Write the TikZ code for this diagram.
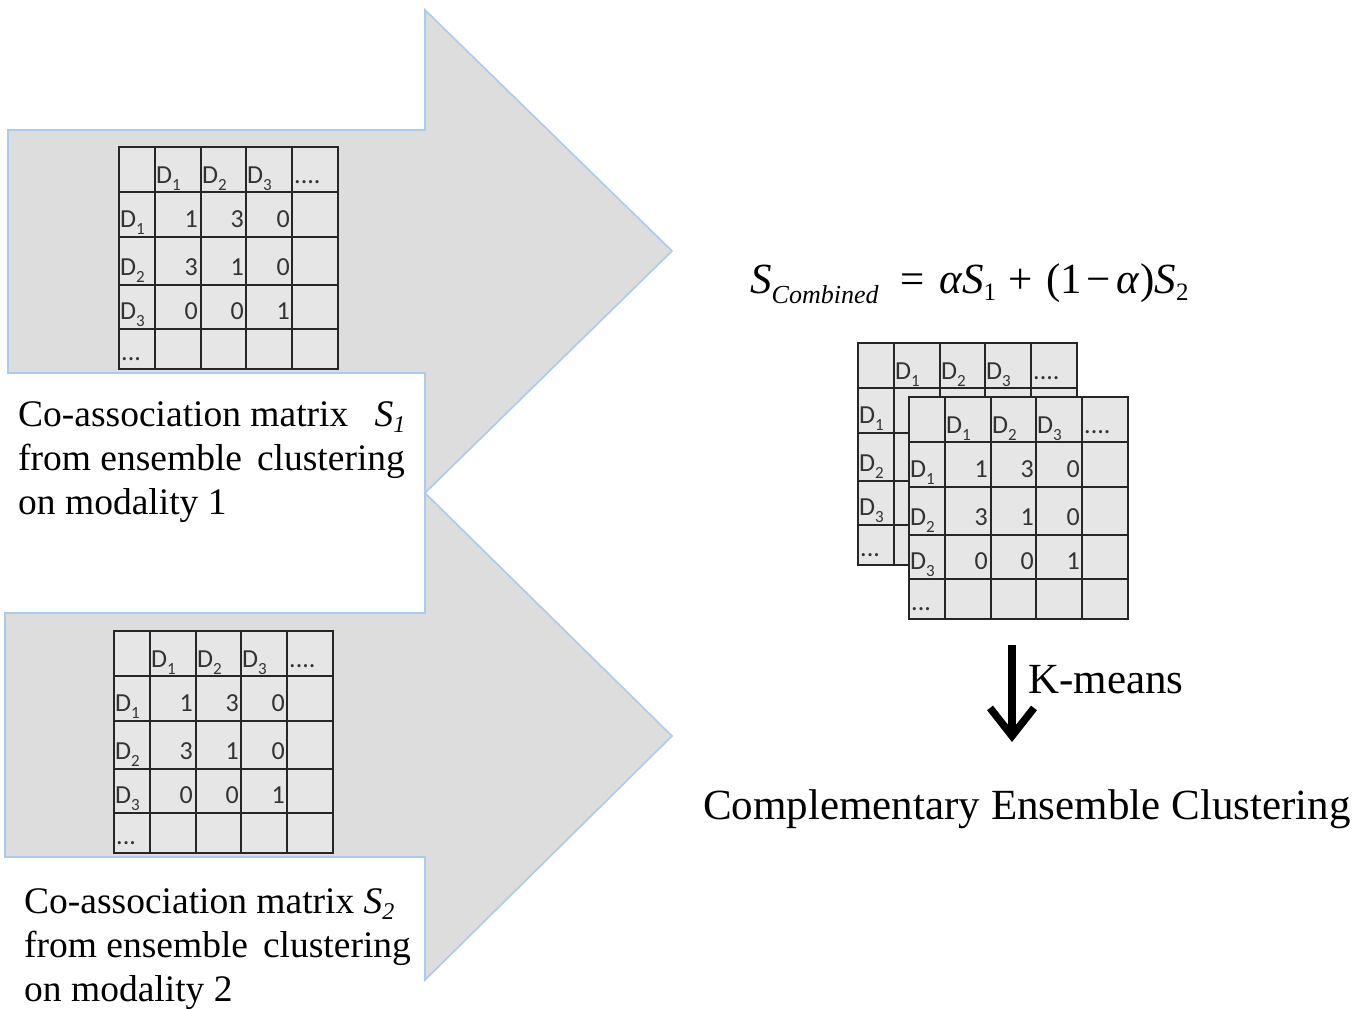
\documentclass[tikz,border=0pt]{standalone}
\usepackage{fontspec}
\setmainfont{Liberation Serif}
\newfontfamily\calfont{Carlito}
\usetikzlibrary{arrows.meta,positioning,calc}

\definecolor{arrowgray}{HTML}{DDDDDD}
\definecolor{arrowblue}{HTML}{A9CBEF}
\definecolor{cellgray}{HTML}{E6E6E6}

\tikzset{
  bigarrow/.style={fill=arrowgray, draw=arrowblue, line width=1.6pt, line join=miter},
  gridline/.style={draw=black!85, line width=1.6pt},
  celltext/.style={inner sep=0pt, font=\calfont\fontsize{26}{26}\selectfont, text=black!80},
  caption/.style={inner sep=0pt, align=left, font=\fontsize{37.5}{44}\selectfont},
  bigtext/.style={inner sep=0pt, font=\fontsize{43}{50}\selectfont},
  formula/.style={inner sep=0pt, font=\fontsize{43}{46}\selectfont},
  kmarrow/.style={line width=7.5pt, -{Straight Barb[length=28pt,width=44pt]}},
}

% D with a lowered index
\newcommand{\Dsub}[1]{D\raisebox{-7pt}{\fontsize{17}{17}\selectfont #1}}
% lowered index for the captions and the formula
\newcommand{\lowidx}[3][22]{\raisebox{#2}{\fontsize{#1}{#1}\selectfont #3}}

% grid and labels of a co-association matrix, #1 name, #2/#3 top left corner
\newcommand{\matframe}[3]{%
  \begin{scope}[shift={(#2,#3)}]
    \coordinate (#1) at (0,0);
    \fill[cellgray] (0,0) rectangle (219,222);
    \foreach \cx in {36,82,127,173} \draw[gridline] (\cx,0) -- (\cx,222);
    \foreach \ry in {45,90,138,182} \draw[gridline] (0,\ry) -- (219,\ry);
    \draw[gridline] (0,0) rectangle (219,222);
    % header row and first column
    \foreach \i/\cx in {1/37,2/83,3/128}
      \node[celltext, anchor=base west] (#1-h\i) at (\cx,36) {\Dsub{\i}};
    \foreach \i/\ry in {1/80,2/128,3/172}
      \node[celltext, anchor=base west] (#1-r\i) at (1,\ry) {\Dsub{\i}};
    \node[celltext, anchor=base west] (#1-hdots) at (175,36) {....};
    \node[celltext, anchor=base west] (#1-rdots) at (2,213) {...};
  \end{scope}}

% full matrix with its values
\newcommand{\comatrix}[3]{%
  \matframe{#1}{#2}{#3}
  \begin{scope}[shift={(#2,#3)}]
    \foreach \r/\ry/\a/\b/\c in {1/80/1/3/0, 2/128/3/1/0, 3/172/0/0/1} {
      \node[celltext, anchor=base east] (#1-v\r a) at (79,\ry) {\a};
      \node[celltext, anchor=base east] (#1-v\r b) at (125,\ry) {\b};
      \node[celltext, anchor=base east] (#1-v\r c) at (171,\ry) {\c};
    }
  \end{scope}}

\begin{document}
\begin{tikzpicture}[x=1pt,y=-1pt]
  \useasboundingbox (0,0) rectangle (1365,1009);

  % the two block arrows
  \draw[bigarrow] (8,130) -- (425,130) -- (425,10) -- (672,251)
    -- (425,493) -- (425,373) -- (8,373) -- cycle;
  \draw[bigarrow] (5,613) -- (425,613) -- (425,493) -- (672,736)
    -- (425,980) -- (425,857) -- (5,857) -- cycle;

  % matrices of the two modalities
  \comatrix{matone}{119}{147}
  \comatrix{mattwo}{114}{631}

  \node[caption, anchor=north west] (capone) at (18,401)
    {Co-association matrix\hspace{0.7em}\textit{S}\lowidx[24]{-6pt}{\textit{1}}\\
     from ensemble\hspace{0.4em}clustering\\
     on modality 1};
  \node[caption, anchor=north west] (captwo) at (24,888)
    {Co-association matrix \textit{S}\lowidx[24]{-6pt}{\textit{2}}\\
     from ensemble\hspace{0.4em}clustering\\
     on modality 2};

  % combination
  \node[formula, anchor=base west] (combined) at (750,293)
    {\textit{S}\lowidx[26]{-10pt}{\textit{Combined}}\hspace{0.5em}=\hspace{0.35em}\textit{αS}\lowidx[25]{-7pt}{1}\hspace{0.3em}+\hspace{0.3em}(1\hspace{0.1em}−\hspace{0.15em}\textit{α})\textit{S}\lowidx[25]{-7pt}{2}};

  % back matrix is mostly hidden, only its frame and labels show
  \matframe{matback}{858}{343}
  \comatrix{matfront}{909}{397}

  \coordinate (kmtop) at (1012,645);
  \coordinate (kmtip) at (1012,742);
  \draw[kmarrow] (kmtop) -- (kmtip);
  \node[bigtext, anchor=base west] (kmeans) at (1028,693) {K-means};

  \node[bigtext, anchor=base west] (result) at (703,819)
    {Complementary Ensemble Clustering};
\end{tikzpicture}
\end{document}
